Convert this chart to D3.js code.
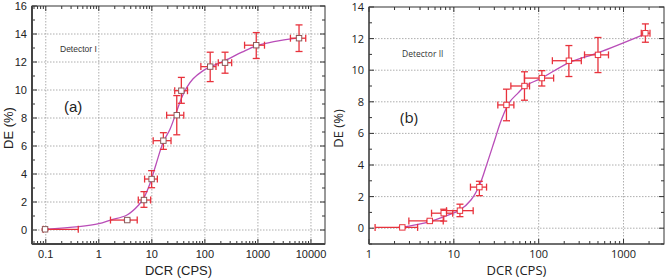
<!DOCTYPE html>
<html>
<head>
<meta charset="utf-8">
<script src="https://cdn.jsdelivr.net/npm/d3@7"></script>
<style>
  body { margin: 0; background: #fff; }
  svg { display: block; }
</style>
</head>
<body>
<svg id="chart" width="665" height="279"></svg>
<script>
// Detector I, panel (a)
const dcrA   = [0.097, 3.44, 7.1, 9.9, 16.5, 29.5, 36, 126, 240, 930, 5960];
const deA    = [0.05, 0.71, 2.14, 3.64, 6.38, 8.2, 9.95, 11.67, 11.95, 13.2, 13.7];
const dcrLoA = [0.09, 1.66, 5.55, 7.3, 10.6, 19, 27, 84, 179, 560, 4100];
const dcrHiA = [0.41, 5.3, 9.5, 12.7, 23, 40, 47, 162, 320, 1330, 7970];
const deLoA  = [0.0, 0.65, 1.62, 3.02, 5.76, 6.8, 9.05, 10.6, 11.2, 12.25, 12.75];
const deHiA  = [0.1, 0.77, 2.74, 4.24, 6.95, 9.6, 10.9, 12.7, 12.7, 14.1, 14.65];
const fitDcrA = [0.088, 0.42, 1, 1.67, 3.4, 5.7, 7.3, 9.6, 12, 16.5, 22, 29.5, 36, 45, 60, 90, 126, 240, 500, 930, 2000, 5960];
const fitDeA  = [0.05, 0.24, 0.45, 0.71, 1.07, 1.8, 2.4, 3.5, 4.7, 6.3, 7.2, 8.5, 9.4, 10.15, 10.8, 11.35, 11.65, 12.1, 12.7, 13.15, 13.45, 13.72];
const xTicksA = [0.1, 1, 10, 100, 1000, 10000];
const yTicksA = [0, 2, 4, 6, 8, 10, 12, 14, 16];

// Detector II, panel (b)
const dcrB   = [2.47, 5.2, 7.6, 11.8, 20, 41.7, 68, 109, 227, 500, 1810];
const deB    = [0.05, 0.46, 0.95, 1.11, 2.6, 7.8, 9.0, 9.5, 10.6, 10.97, 12.34];
const dcrLoB = [1.18, 2.95, 5.46, 8.2, 15.7, 33, 47, 68, 145, 347, 1620];
const dcrHiB = [3.74, 7.5, 9.7, 16.9, 24.3, 51, 78, 150, 318, 665, 2050];
const deLoB  = [0.0, 0.41, 0.45, 0.73, 2.06, 6.8, 8.1, 9.0, 9.6, 9.85, 11.77];
const deHiB  = [0.1, 0.51, 1.2, 1.52, 2.97, 8.8, 9.9, 9.97, 11.56, 12.07, 12.93];
const fitDcrB = [2.47, 5.2, 7.6, 11.8, 16, 20, 25, 30.4, 36, 45, 57, 69.5, 108, 232, 500, 1810];
const fitDeB  = [0.05, 0.42, 0.73, 1.15, 1.8, 2.7, 4.2, 5.6, 6.8, 7.95, 8.55, 9.0, 9.5, 10.5, 11.1, 12.3];
const xTicksB = [1, 10, 100, 1000];
const yTicksB = [0, 2, 4, 6, 8, 10, 12, 14];

const svg = d3.select("#chart");

function drawPanel(p) {
    var x = d3.scaleLog().domain(p.xDomain).range([p.left, p.right]);
    var y = d3.scaleLinear().domain(p.yDomain).range([p.bottom, p.top]);
    var g = svg.append("g").style("font-family", p.font);

    // grid
    g.selectAll(".vgrid").data(p.xTicks.filter(v => x(v) > p.left + 2 && x(v) < p.right - 2)).enter()
        .append("line")
        .attr("x1", d => x(d)).attr("x2", d => x(d))
        .attr("y1", p.top).attr("y2", p.bottom)
        .attr("stroke", "#999").attr("stroke-width", 0.8).attr("stroke-dasharray", "1.5,1.5");
    g.selectAll(".hgrid").data(p.yTicks.filter(v => y(v) > p.top + 2)).enter()
        .append("line")
        .attr("x1", p.left).attr("x2", p.right)
        .attr("y1", d => y(d)).attr("y2", d => y(d))
        .attr("stroke", "#999").attr("stroke-width", 0.8).attr("stroke-dasharray", "1.5,1.5");

    // minor ticks, log decades
    var minorX = [];
    var lo = Math.floor(Math.log10(p.xDomain[0])), hi = Math.ceil(Math.log10(p.xDomain[1]));
    for (let e = lo; e < hi; e++) {
        for (let k = 2; k <= 9; k++) {
            var v = k * Math.pow(10, e);
            if (v > p.xDomain[0] && v < p.xDomain[1]) minorX.push(v);
        }
    }
    var minorY = d3.range(Math.ceil(p.yDomain[0]), p.yDomain[1], 1).filter(v => v % 2 !== 0);

    var tickCol = "#333";
    // bottom + top x ticks (inward)
    [[p.bottom, -1], [p.top, 1]].forEach(function(s) {
        g.selectAll(null).data(p.xTicks).enter().append("line")
            .attr("x1", d => x(d)).attr("x2", d => x(d))
            .attr("y1", s[0]).attr("y2", s[0] + s[1] * 5)
            .attr("stroke", tickCol).attr("stroke-width", 1);
        g.selectAll(null).data(minorX).enter().append("line")
            .attr("x1", d => x(d)).attr("x2", d => x(d))
            .attr("y1", s[0]).attr("y2", s[0] + s[1] * 3)
            .attr("stroke", tickCol).attr("stroke-width", 1);
    });
    // left + right y ticks (inward)
    [[p.left, 1], [p.right, -1]].forEach(function(s) {
        g.selectAll(null).data(p.yTicks).enter().append("line")
            .attr("x1", s[0]).attr("x2", s[0] + s[1] * 5)
            .attr("y1", d => y(d)).attr("y2", d => y(d))
            .attr("stroke", tickCol).attr("stroke-width", 1);
        g.selectAll(null).data(minorY).enter().append("line")
            .attr("x1", s[0]).attr("x2", s[0] + s[1] * 3)
            .attr("y1", d => y(d)).attr("y2", d => y(d))
            .attr("stroke", tickCol).attr("stroke-width", 1);
    });

    // frame
    g.append("rect")
        .attr("x", p.left).attr("y", p.top)
        .attr("width", p.right - p.left).attr("height", p.bottom - p.top)
        .attr("fill", "none").attr("stroke", "#333").attr("stroke-width", 1);
    g.append("line").attr("x1", p.left).attr("x2", p.left).attr("y1", p.top).attr("y2", p.bottom)
        .attr("stroke", "#444").attr("stroke-width", p.axisWidth);
    g.append("line").attr("x1", p.left).attr("x2", p.right).attr("y1", p.bottom).attr("y2", p.bottom)
        .attr("stroke", "#444").attr("stroke-width", p.axisWidth);

    // tick labels
    g.selectAll(null).data(p.xTicks).enter().append("text")
        .attr("x", d => x(d)).attr("y", p.bottom + 14)
        .attr("text-anchor", "middle")
        .style("font-size", "11px").attr("fill", "#222")
        .text(d => d);
    g.selectAll(null).data(p.yTicks).enter().append("text")
        .attr("x", p.left - 5).attr("y", d => y(d) + 4)
        .attr("text-anchor", "end")
        .style("font-size", "11px").attr("fill", "#222")
        .text(d => d);

    // axis titles
    g.append("text")
        .attr("x", (p.left + p.right) / 2).attr("y", 275)
        .attr("text-anchor", "middle")
        .style("font-size", "13px").attr("fill", "#222")
        .text("DCR (CPS)");
    g.append("text")
        .attr("transform", "translate(" + p.yLabelX + "," + ((p.top + p.bottom) / 2 + 3) + ") rotate(-90)")
        .attr("text-anchor", "middle")
        .style("font-size", "13px").attr("fill", "#222")
        .text("DE (%)");

    // annotations
    g.append("text").attr("x", p.detX).attr("y", p.detY)
        .style("font-size", "8.5px").attr("fill", "#333").text(p.detector);
    g.append("text").attr("x", p.tagX).attr("y", p.tagY)
        .style("font-size", "15px").attr("fill", "#222").text(p.tag);

    // fit curve
    var fit = p.fitX.map((v, i) => [v, p.fitY[i]]);
    g.append("path")
        .datum(fit)
        .attr("d", d3.line().x(d => x(d[0])).y(d => y(d[1])).curve(d3.curveCatmullRom.alpha(0.5)))
        .attr("fill", "none").attr("stroke", "#b94db8").attr("stroke-width", 1.3);

    // error bars
    var pts = p.xs.map((v, i) => ({ x: v, y: p.ys[i], xlo: p.xlo[i], xhi: p.xhi[i], ylo: p.ylo[i], yhi: p.yhi[i] }));
    var red = "#e8323c";
    var cap = 3.5;
    var eb = g.selectAll(".eb").data(pts).enter().append("g");
    eb.append("line")
        .attr("x1", d => x(d.xlo)).attr("x2", d => x(d.xhi))
        .attr("y1", d => y(d.y)).attr("y2", d => y(d.y))
        .attr("stroke", red).attr("stroke-width", 1.3);
    eb.append("line")
        .attr("x1", d => x(d.x)).attr("x2", d => x(d.x))
        .attr("y1", d => y(d.ylo)).attr("y2", d => y(d.yhi))
        .attr("stroke", red).attr("stroke-width", 1.3);
    ["xlo", "xhi"].forEach(function(k) {
        eb.append("line")
            .attr("x1", d => x(d[k])).attr("x2", d => x(d[k]))
            .attr("y1", d => y(d.y) - cap).attr("y2", d => y(d.y) + cap)
            .attr("stroke", red).attr("stroke-width", 1.3);
    });
    ["ylo", "yhi"].forEach(function(k) {
        eb.append("line")
            .attr("x1", d => x(d.x) - cap).attr("x2", d => x(d.x) + cap)
            .attr("y1", d => y(d[k])).attr("y2", d => y(d[k]))
            .attr("stroke", red).attr("stroke-width", 1.3);
    });
    eb.append("rect")
        .attr("x", d => x(d.x) - 2.7).attr("y", d => y(d.y) - 2.7)
        .attr("width", 5.4).attr("height", 5.4)
        .attr("fill", "#fff").attr("stroke", p.markerStroke).attr("stroke-width", 1);
}

drawPanel({
    xDomain: [0.055, 18400], yDomain: [-1, 16],
    left: 32, right: 325, top: 6, bottom: 244,
    xTicks: xTicksA, yTicks: yTicksA,
    xs: dcrA, ys: deA, xlo: dcrLoA, xhi: dcrHiA, ylo: deLoA, yhi: deHiA,
    fitX: fitDcrA, fitY: fitDeA,
    font: "'Liberation Sans', Arial, sans-serif",
    axisWidth: 2, yLabelX: 13,
    detector: "Detector I", detX: 60, detY: 52,
    tag: "(a)", tagX: 64, tagY: 112,
    markerStroke: "#8c5a5a"
});

drawPanel({
    xDomain: [1, 3000], yDomain: [-1, 14],
    left: 369, right: 664, top: 7, bottom: 244,
    xTicks: xTicksB, yTicks: yTicksB,
    xs: dcrB, ys: deB, xlo: dcrLoB, xhi: dcrHiB, ylo: deLoB, yhi: deHiB,
    fitX: fitDcrB, fitY: fitDeB,
    font: "'Open Sans', 'Noto Sans', sans-serif",
    axisWidth: 1.2, yLabelX: 343,
    detector: "Detector II", detX: 402, detY: 57,
    tag: "(b)", tagX: 400, tagY: 123,
    markerStroke: "#e8323c"
});
</script>
</body>
</html>
